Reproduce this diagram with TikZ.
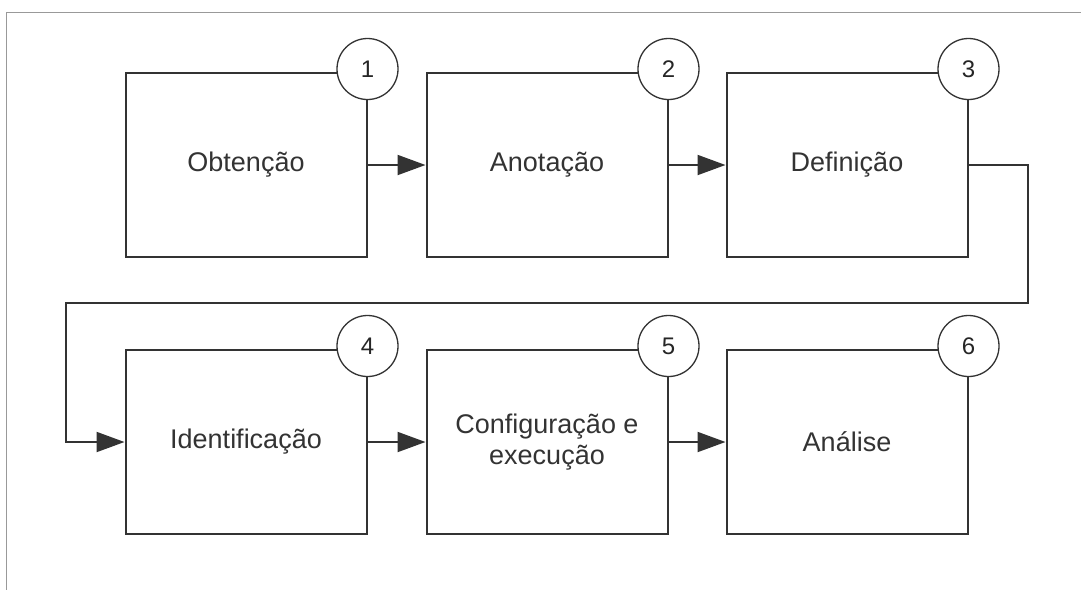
\documentclass[tikz,border=0pt]{standalone}
\usepackage{fontspec}
\setmainfont{Liberation Sans}
\usetikzlibrary{arrows.meta}
\definecolor{linegray}{HTML}{333333}
\definecolor{framegray}{HTML}{999999}
\tikzset{
  stepbox/.style={draw=linegray,line width=2pt,minimum width=241pt,minimum height=184pt,
    align=center,text=linegray,font=\fontsize{27}{31}\selectfont},
  numcircle/.style={draw=linegray,line width=1.3pt,fill=white,circle,minimum size=61pt,
    inner sep=0pt,text=black!85,font=\fontsize{24}{24}\selectfont},
  flow/.style={draw=linegray,line width=2pt,-{Triangle[length=28pt,width=20pt]}}
}
\begin{document}
\begin{tikzpicture}[x=1pt,y=-1pt]
      \useasboundingbox (0,0) rectangle (1081,590);
      \draw[framegray,line width=1pt] (1081,12.5) -- (6.5,12.5) -- (6.5,590);
      \draw
        (246,165) node[stepbox] (b1){Obtenção}
        (547,165) node[stepbox] (b2){Anotação}
        (847,165) node[stepbox] (b3){Definição}
        (246,442) node[stepbox] (b4){Identificação}
        (547,442) node[stepbox] (b5){Configuração e\\execução}
        (847,442) node[stepbox] (b6){Análise};
      \node[numcircle] (n1) at ([yshift=3pt]b1.north east) {1};
      \node[numcircle] (n2) at ([yshift=3pt]b2.north east) {2};
      \node[numcircle] (n3) at ([yshift=3pt]b3.north east) {3};
      \node[numcircle] (n4) at ([yshift=3pt]b4.north east) {4};
      \node[numcircle] (n5) at ([yshift=3pt]b5.north east) {5};
      \node[numcircle] (n6) at ([yshift=3pt]b6.north east) {6};
      \coordinate (turnright) at (1028,303);
      \coordinate (turnleft) at (66,303);
      \begin{scope}[flow]
        \draw (b1) to (b2);
        \draw (b2) to (b3);
        \draw (b3.east) -| (turnright) -- (turnleft) |- (b4.west);
        \draw (b4) to (b5);
        \draw (b5) to (b6);
      \end{scope}
    \end{tikzpicture}
\end{document}
